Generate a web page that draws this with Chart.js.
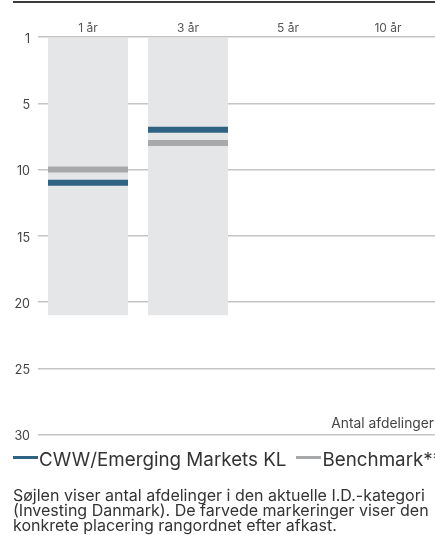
<!DOCTYPE html>
<html><head><meta charset="utf-8">
<script src="https://cdn.jsdelivr.net/npm/chart.js@4/dist/chart.umd.min.js"></script>
<style>
html,body{margin:0;padding:0;background:#fff;overflow:hidden;width:435px;height:535px;}
body{position:relative;font-family:Inter, "Noto Sans", sans-serif;}
#topline{position:absolute;left:13px;top:1px;width:430px;height:2px;background:#3a3a3a;}
#wrap{position:absolute;left:0;top:0;width:438px;height:450px;}
#antal{position:absolute;right:1px;top:415px;font-size:13.8px;line-height:16px;color:#444;white-space:nowrap;}
#legend{position:absolute;left:13px;top:450px;width:460px;height:20px;white-space:nowrap;font-size:18.8px;line-height:20px;color:#333;}
#legend span.item{display:inline-block;margin-right:10px;}
#legend span.sw{display:inline-block;width:25px;height:3px;vertical-align:middle;margin-right:1px;position:relative;top:-3px;}
#note{position:absolute;left:13px;top:488px;width:460px;font-size:16px;line-height:15px;color:#333;white-space:nowrap;}
</style></head>
<body>
<div id="topline"></div>
<div id="wrap"><canvas id="c"></canvas></div>
<div id="antal">Antal afdelinger</div>
<div id="legend"></div>
<div id="note">Søjlen viser antal afdelinger i den aktuelle I.D.-kategori<br>(Investing Danmark). De farvede markeringer viser den<br>konkrete placering rangordnet efter afkast.</div>
<script>
const categories = ["1 år", "3 år", "5 år", "10 år"];
const totalFunds = [21, 21, null, null];
const fundRank = [11, 7, null, null];
const benchmarkRank = [10, 8, null, null];
const yTickValues = [0, 5, 10, 15, 20, 25, 30];
const yTickLabels = ["1", "5", "10", "15", "20", "25", "30"];
const seriesNames = ["CWW/Emerging Markets KL", "Benchmark**"];
const seriesColors = ["#2f6384", "#a8a9ab"];

const half = 0.23;
const marker = arr => arr.map(v => v == null ? null : [v - half, v + half]);

const chart = new Chart(document.getElementById('c'), {
  type: 'bar',
  data: {
    labels: categories,
    datasets: [
      {label: seriesNames[0], data: marker(fundRank), backgroundColor: seriesColors[0], order: 1, grouped: false, barPercentage: 0.8, categoryPercentage: 1},
      {label: seriesNames[1], data: marker(benchmarkRank), backgroundColor: seriesColors[1], order: 2, grouped: false, barPercentage: 0.8, categoryPercentage: 1},
      {label: 'Antal', data: totalFunds, backgroundColor: '#e5e6e8', order: 3, grouped: false, barPercentage: 0.8, categoryPercentage: 1}
    ]
  },
  options: {
    responsive: true, maintainAspectRatio: false, animation: false,
    layout: {padding: {top: 10, right: 0, bottom: 8, left: 0}},
    scales: {
      x: {
        position: 'top',
        grid: {display: false, drawTicks: false}, border: {display: false},
        ticks: {color: '#555', font: {family: 'Inter', size: 12}, padding: 1},
        afterFit: s => { s.height = 27; }
      },
      y: {
        reverse: true, min: 0, max: 30,
        afterBuildTicks: s => { s.ticks = yTickValues.map(v => ({value: v})); },
        ticks: {color: '#444', font: {family: 'Inter', size: 12.5}, padding: 8, labelOffset: 2,
          callback: (v) => yTickLabels[yTickValues.indexOf(v)]},
        grid: {color: '#c4c4c4', lineWidth: 1.5, drawTicks: false},
        border: {display: false},
        afterFit: s => { s.width = 38; }
      }
    },
    plugins: {
      tooltip: {enabled: false},
      legend: {display: false}
    }
  }
});

// HTML legend built from the chart's own datasets
const lg = document.getElementById('legend');
chart.data.datasets.slice(0, 2).forEach(ds => {
  const it = document.createElement('span'); it.className = 'item';
  const sw = document.createElement('span'); sw.className = 'sw'; sw.style.background = ds.backgroundColor;
  it.appendChild(sw); it.appendChild(document.createTextNode(ds.label));
  lg.appendChild(it);
});
</script>
</body></html>
